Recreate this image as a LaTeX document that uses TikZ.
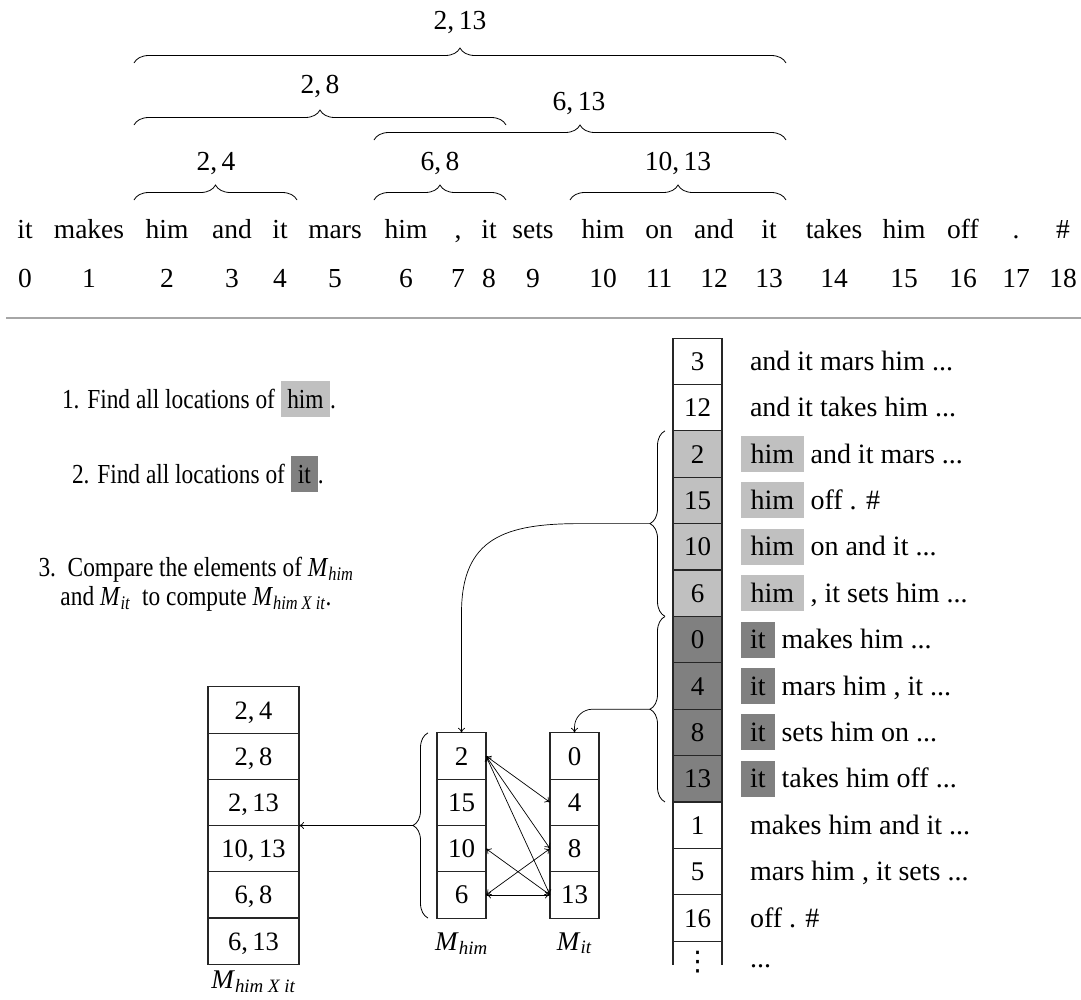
\documentclass[tikz,border=0pt]{standalone}
\usepackage{fontspec}
\setmainfont{Liberation Serif}
\newfontfamily\stepfont{Liberation Serif}[FakeStretch=0.85]
\newfontfamily\dotsfont{DejaVu Sans}
\usetikzlibrary{decorations.pathreplacing,arrows.meta,calc}
\definecolor{himgray}{HTML}{C0C0C0}
\definecolor{itgray}{HTML}{808080}
\definecolor{rulegray}{HTML}{A6A6A6}
\newcommand{\hlbox}[3]{{\setlength{\fboxsep}{0pt}\colorbox{#1}{\hspace{#2}\rule[-9pt]{0pt}{36pt}#3\hspace{#2}}}}
\newcommand{\Msub}[1]{\textit{M}\textsubscript{\textit{#1}}}
\begin{document}
\begin{tikzpicture}[x=1pt,y=-1pt,
  every node/.style={inner sep=0pt,outer sep=0pt},
  topt/.style={font=\fontsize{27.5}{32}\selectfont, anchor=base},
  stept/.style={font=\stepfont\fontsize{27.5}{32}\selectfont, anchor=base west},
  stepc/.style={font=\stepfont\fontsize{27.5}{32}\selectfont, anchor=base},
  rowt/.style={font=\fontsize{28}{32}\selectfont, anchor=base west},
  labt/.style={font=\fontsize{27}{30}\selectfont, anchor=base},
  brc/.style={decorate, decoration={brace, amplitude=15pt}, line width=0.8pt},
  cellb/.style={draw=black!85, line width=1.1pt, minimum width=49pt, minimum height=46.3pt,
     text height=18pt, text depth=0pt, font=\fontsize{27}{32}\selectfont},
  cellw/.style={cellb, minimum width=91pt, font=\fontsize{26.5}{32}\selectfont},
  conn/.style={line width=0.7pt, -{To[length=5pt,width=7pt]}},
  dconn/.style={line width=0.7pt, {To[length=5pt,width=7pt]}-{To[length=5pt,width=7pt]}}
]
\useasboundingbox (0,0) rectangle (1081,999);

% ---- top: tokens and indices
\foreach \x/\w [count=\i from 0] in {25/it, 89/makes, 167/him, 232/and, 280/it, 335/mars, 406/him, 458/{,}, 489/it, 533/sets, 603/him, 659/on, 714/and, 769/it, 834/takes, 904/him, 963/off, 1016/., 1063/\#}
  {\node[topt] (w\i) at (\x,238) {\w};
   \node[topt] (n\i) at (\x,287) {\i};}

% ---- top braces
\draw[brc] (134,63) -- (786,63);
\node[topt] (l213) at (460,29) {2,\,13};
\draw[brc] (134,125) -- (506,125);
\node[topt] (l28) at (320,93) {2,\,8};
\draw[brc] (374,140) -- (786,140);
\node[topt] (l613) at (579,110) {6,\,13};
\draw[brc] (134,200) -- (297,200);
\node[topt] (l24) at (216,170) {2,\,4};
\draw[brc] (374,200) -- (506,200);
\node[topt] (l68) at (440,170) {6,\,8};
\draw[brc] (570,200) -- (786,200);
\node[topt] (l1013) at (678,170) {10,\,13};

% ---- separator
\draw[rulegray, line width=1.5pt] (6,318) -- (1081,318);

% ---- steps
\node[stept] (s1) at (62,408) {1. Find all locations of \hlbox{himgray}{6.5pt}{him}.};
\node[stept] (s2) at (72,483) {2. Find all locations of \hlbox{itgray}{7pt}{it}.};
\node[stepc] (s3a) at (196,576) {3.\ \ Compare the elements of \Msub{him}};
\node[stepc] (s3b) at (196,605) {and \Msub{it}\ \ to compute \Msub{him X it}.};

% ---- suffix array column
\foreach \v/\f [count=\i from 0] in {3/white, 12/white, 2/himgray, 15/himgray, 10/himgray, 6/himgray, 0/itgray, 4/itgray, 8/itgray, 13/itgray, 1/white, 5/white, 16/white}
   \node[cellb, fill=\f] (r\i) at (697.5,{361.2+46.4*\i}) {\v};
\draw[black!85, line width=1.1pt] (r12.south west) -- ++(0,24);
\draw[black!85, line width=1.1pt] (r12.south east) -- ++(0,24);
\node[font=\dotsfont\fontsize{27}{30}\selectfont] (r13) at (697.5,962) {⋮};

\node[rowt] (t0) at ([shift={(52.5,9)}]r0.center) {and it mars him ...};
\node[rowt] (t1) at ([shift={(52.5,9)}]r1.center) {and it takes him ...};
\node[rowt] (t2) at ([shift={(43.5,9)}]r2.center) {\hlbox{himgray}{9.5pt}{him} and it mars ...};
\node[rowt] (t3) at ([shift={(43.5,9)}]r3.center) {\hlbox{himgray}{9.5pt}{him} off . \#};
\node[rowt] (t4) at ([shift={(43.5,9)}]r4.center) {\hlbox{himgray}{9.5pt}{him} on and it ...};
\node[rowt] (t5) at ([shift={(43.5,9)}]r5.center) {\hlbox{himgray}{9.5pt}{him} , it sets him ...};
\node[rowt] (t6) at ([shift={(43.5,9)}]r6.center) {\hlbox{itgray}{9pt}{it} makes him ...};
\node[rowt] (t7) at ([shift={(43.5,9)}]r7.center) {\hlbox{itgray}{9pt}{it} mars him , it ...};
\node[rowt] (t8) at ([shift={(43.5,9)}]r8.center) {\hlbox{itgray}{9pt}{it} sets him on ...};
\node[rowt] (t9) at ([shift={(43.5,9)}]r9.center) {\hlbox{itgray}{9pt}{it} takes him off ...};
\node[rowt] (t10) at ([shift={(52.5,9)}]r10.center) {makes him and it ...};
\node[rowt] (t11) at ([shift={(52.5,9)}]r11.center) {mars him , it sets ...};
\node[rowt] (t12) at ([shift={(52.5,9)}]r12.center) {off . \#};
\node[rowt] (t13) at (750,967) {...};

% braces left of the column
\draw[brc] ([xshift=-8pt]r5.south west) -- ([xshift=-8pt]r2.north west);
\draw[brc] ([xshift=-8pt]r9.south west) -- ([xshift=-8pt]r6.north west);
\coordinate (b1) at ($(r2.north west)!0.5!(r5.south west)+(-23,0)$);
\coordinate (b2) at ($(r6.north west)!0.5!(r9.south west)+(-23,0)$);

% ---- M_him and M_it
\foreach \v [count=\i from 0] in {2,15,10,6}
   \node[cellb] (mh\i) at (461.5,{756+46.3*\i}) {\v};
\foreach \v [count=\i from 0] in {0,4,8,13}
   \node[cellb] (mt\i) at (574.5,{756+46.3*\i}) {\v};
\node[labt] (lmh) at (461.5,950) {\Msub{him}};
\node[labt] (lmt) at (574.5,950) {\Msub{it}};
\draw[brc] ([xshift=-9pt]mh3.south west) -- ([xshift=-9pt]mh0.north west);
\coordinate (b3) at ($(mh0.north west)!0.5!(mh3.south west)+(-24,0)$);
\coordinate (c1) at ([yshift=120pt]mh0.north);

% ---- result column
\foreach \v [count=\i from 0] in {{2,\,4},{2,\,8},{2,\,13},{10,\,13},{6,\,8},{6,\,13}}
   \node[cellw] (res\i) at (253.5,{710+46.2*\i}) {\v};
\node[labt] (lres) at (253.5,988) {\Msub{him X it}};

% ---- connectors
\draw[conn] (b1) -- ++(-70,0) .. controls +(-75,0) and +(0,-75) .. (c1) -- (mh0.north);
\draw[conn, rounded corners=18pt] (b2) -| (mt0.north);
\draw[conn] (b3) -- (res2.south east);
\draw[dconn] (mh0.east) -- (mt1.west);
\draw[dconn] (mh0.east) -- (mt2.west);
\draw[dconn] (mh0.east) -- (mt3.west);
\draw[dconn] (mh2.east) -- (mt3.west);
\draw[dconn] (mh3.east) -- (mt2.west);
\draw[dconn] (mh3.east) -- (mt3.west);
\end{tikzpicture}
\end{document}
